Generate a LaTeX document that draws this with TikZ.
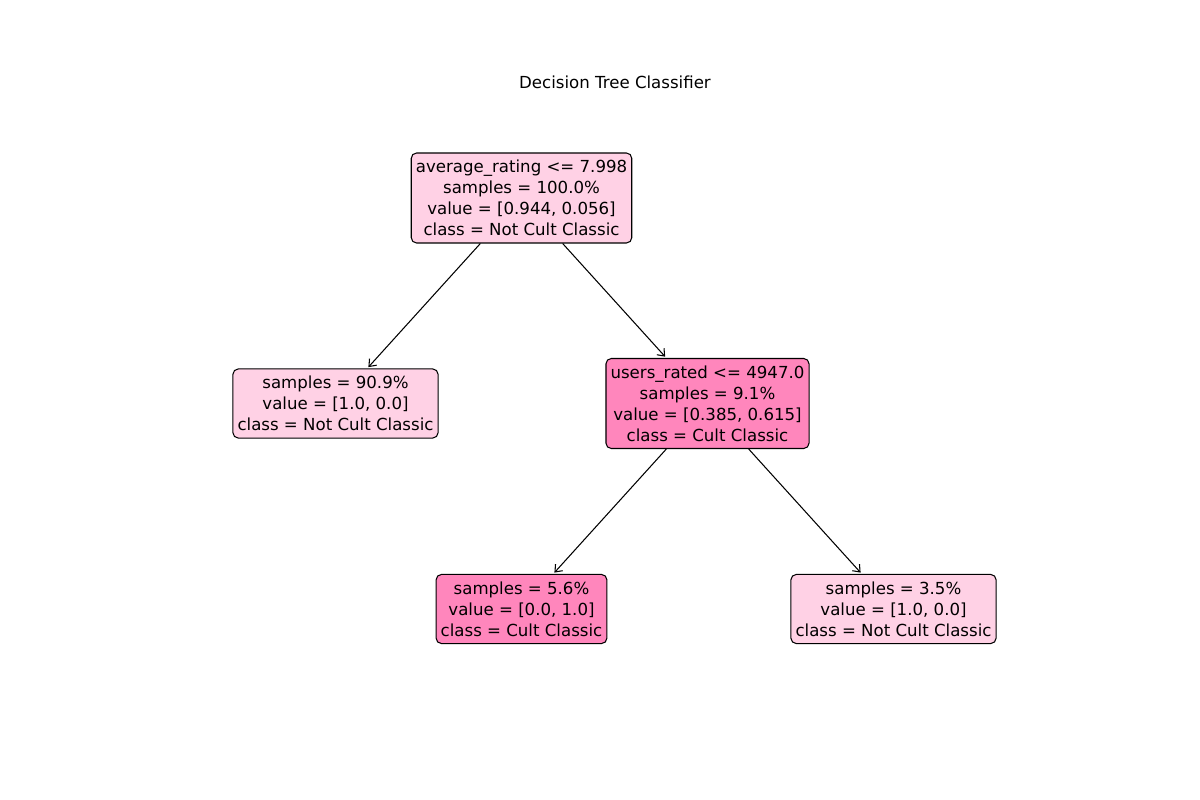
\documentclass[tikz,border=0pt]{standalone}
\usepackage{fontspec}
\setmainfont{DejaVu Sans}
\usepackage{xcolor}
\usepackage{tikz}
\usetikzlibrary{arrows.meta}
\definecolor{lightpink}{HTML}{FFD1E5}
\definecolor{deeppink}{HTML}{FF86BC}

\begin{document}
\begin{tikzpicture}[x=0.02cm, y=-0.02cm,
        every node/.style={font=\fontsize{9.45}{11.9}\selectfont},
        treenode/.style={draw=black, line width=0.6pt, rounded corners=3pt,
        align=center, inner xsep=2.6pt, inner ysep=4.1pt},
        edge/.style={line width=0.6pt, -{Straight Barb[length=3.5pt,width=5.5pt]}, 
        shorten >=1pt}]
        \useasboundingbox (0,0) rectangle (1200,800);
        \node (title) at (615,82) {Decision Tree Classifier};
        \node[treenode, fill=lightpink] (root) at (521.5,198) 
        {average\_rating <= 7.998\\samples = 100.0\%\\value = [0.944, 0.056]\\class = Not Cult Classic};
        \node[treenode, fill=lightpink] (leftleaf) at (335.5,403.5) 
        {samples = 90.9\%\\value = [1.0, 0.0]\\class = Not Cult Classic};
        \node[treenode, fill=deeppink] (split) at (707.5,403.5) 
        {users\_rated <= 4947.0\\samples = 9.1\%\\value = [0.385, 0.615]\\class = Cult Classic};
        \node[treenode, fill=deeppink] (leafa) at (521.5,609) 
        {samples = 5.6\%\\value = [0.0, 1.0]\\class = Cult Classic};
        \node[treenode, fill=lightpink] (leafb) at (893.5,609) 
        {samples = 3.5\%\\value = [1.0, 0.0]\\class = Not Cult Classic};
        \draw[edge] (root) -- (leftleaf);
        \draw[edge] (root) -- (split);
        \draw[edge] (split) -- (leafa);
        \draw[edge] (split) -- (leafb);
    \end{tikzpicture}
\end{document}
